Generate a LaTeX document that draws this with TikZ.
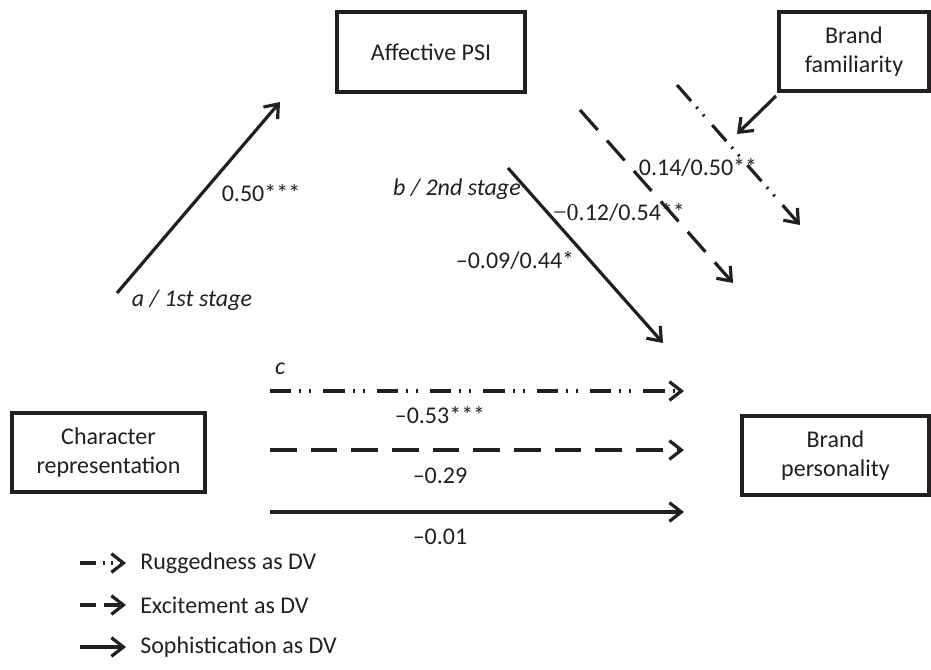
\documentclass[tikz,border=0pt]{standalone}
\usepackage{fontspec}
\setmainfont{Carlito}
\newfontfamily\serifmin{Liberation Serif}
\usetikzlibrary{arrows.meta}
\definecolor{ink}{HTML}{231F20}
\begin{document}
\begin{tikzpicture}[x=0.75pt,y=-0.75pt,
  font=\fontsize{18}{22}\selectfont, text=ink,
  box/.style={draw=ink, line width=2.3pt, inner sep=0pt, align=center},
  arr/.style={draw=ink, line width=2.4pt, -{Straight Barb[length=9pt,width=14pt]}},
  dashedline/.style={dash pattern=on 20pt off 10.5pt},
  dotline/.style={dash pattern=on 16pt off 6pt on 1.5pt off 6pt on 1.5pt off 9pt},
  lbl/.style={inner sep=0pt},
  ilbl/.style={inner sep=0pt, font=\fontsize{18}{22}\selectfont\itshape}]
\useasboundingbox (0,0) rectangle (931,669);
% boxes
\node[box, minimum width=141pt, minimum height=60pt] (psi) at (431,52) {Affective PSI};
\node[box, minimum width=112.5pt, minimum height=59.25pt] (fam) at (854,51.5) {Brand\\familiarity};
\node[box, minimum width=144.75pt, minimum height=59.25pt] (char) at (108.5,452.5) {Character\\representation};
\node[box, minimum width=140.25pt, minimum height=59.25pt] (pers) at (835.5,455.5) {Brand\\personality};
% a path
\coordinate (a1) at (117,293);
\coordinate (a2) at (280,102);
\draw[arr] (a1) -- (a2);
\node[lbl] (la) at (261,193) {0.50***};
\node[ilbl] (lastage) at (192,300) {a / 1st stage};
% b paths
\coordinate (bs1) at (508,168); \coordinate (bs2) at (663,343);
\coordinate (bd1) at (580,110); \coordinate (bd2) at (733,283);
\coordinate (bt1) at (677,85);  \coordinate (bt2) at (800,225);
\draw[arr] (bs1) -- (bs2);
\draw[arr, dashedline] (bd1) -- (bd2);
\draw[arr, dotline] (bt1) -- (bt2);
\node[ilbl, anchor=east] (lbstage) at (521,189) {b / 2nd stage};
\node[lbl] (lbs) at (515,260) {–0.09/0.44*};
\node[lbl] (lbd) at (619,212) {{\serifmin −0}.12/0.54**};
\node[lbl] (lbt) at (698,167) {0.14/0.50**};
% moderator
\coordinate (m1) at (776,96); \coordinate (m2) at (737,134);
\draw[arr] (m1) -- (m2);
% c paths
\coordinate (ct1) at (270,391); \coordinate (ct2) at (684,391);
\coordinate (cd1) at (270,450); \coordinate (cd2) at (684,450);
\coordinate (cs1) at (270,512); \coordinate (cs2) at (684,512);
\draw[arr, dotline] (ct1) -- (ct2);
\draw[arr, dashedline] (cd1) -- (cd2);
\draw[arr] (cs1) -- (cs2);
\node[ilbl] (lc) at (280,369) {c};
\node[lbl] (lct) at (440,415) {–0.53***};
\node[lbl] (lcd) at (440,476) {–0.29};
\node[lbl] (lcs) at (440,537) {–0.01};
% legend
\coordinate (g1a) at (80,563); \coordinate (g1b) at (126,563);
\coordinate (g2a) at (80,605); \coordinate (g2b) at (126,605);
\coordinate (g3a) at (80,647); \coordinate (g3b) at (126,647);
\draw[arr, dash pattern=on 12pt off 5pt on 1.5pt off 5pt on 1.5pt off 5pt] (g1a) -- (g1b);
\draw[arr, dash pattern=on 12pt off 6pt] (g2a) -- (g2b);
\draw[arr] (g3a) -- (g3b);
\node[lbl, anchor=west] (lg1) at (140,563) {Ruggedness as DV};
\node[lbl, anchor=west] (lg2) at (140,605) {Excitement as DV};
\node[lbl, anchor=west] (lg3) at (140,647) {Sophistication as DV};
\end{tikzpicture}
\end{document}
